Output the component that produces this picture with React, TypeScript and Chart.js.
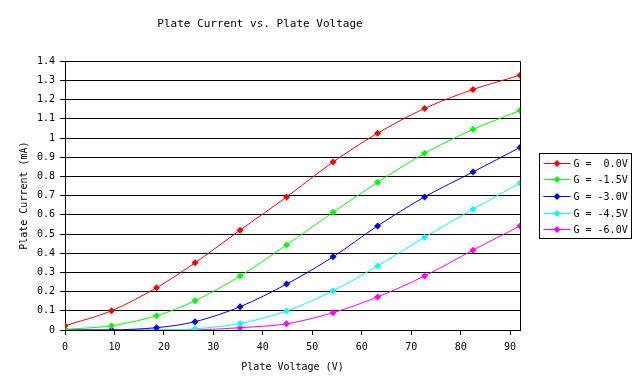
import React, { useEffect, useRef } from "react";
import { Chart, registerables } from "chart.js";

Chart.register(...registerables);

const voltages = [0, 9.4, 18.5, 26.3, 35.4, 44.8, 54.2, 63.2, 72.7, 82.5, 92];
const seriesLabels = ["G =  0.0V", "G = -1.5V", "G = -3.0V", "G = -4.5V", "G = -6.0V"];
const seriesColors = ["#ff0000", "#00ff00", "#0000ff", "#00ffff", "#ff00ff"];
const g0 = [0.022, 0.1, 0.22, 0.35, 0.52, 0.693, 0.875, 1.025, 1.154, 1.253, 1.327];
const g15 = [0.003, 0.022, 0.074, 0.152, 0.281, 0.443, 0.613, 0.769, 0.92, 1.045, 1.143];
const g30 = [0, 0, 0.012, 0.043, 0.121, 0.239, 0.381, 0.542, 0.693, 0.823, 0.951];
const g45 = [0, 0, 0, 0.006, 0.034, 0.099, 0.204, 0.333, 0.483, 0.629, 0.766];
const g60 = [0, 0, 0, 0, 0.012, 0.032, 0.09, 0.172, 0.281, 0.416, 0.542];
const seriesValues = [g0, g15, g30, g45, g60];
const xTicks = [0, 10, 20, 30, 40, 50, 60, 70, 80, 90];
const titleText = "Plate Current vs. Plate Voltage";
const xTitle = "Plate Voltage (V)";
const yTitle = "Plate Current (mA)";

const FONT = "'DejaVu Sans Mono', 'Liberation Mono', monospace";

const legendPlugin = {
  id: "boxLegend",
  afterDraw(chart: any) {
    const ctx = chart.ctx;
    const area = chart.chartArea;
    ctx.save();
    // right border of plot
    ctx.strokeStyle = "#000";
    ctx.lineWidth = 1;
    ctx.beginPath();
    const rx = Math.round(area.right) + 0.5;
    ctx.moveTo(rx, area.top);
    ctx.lineTo(rx, area.bottom);
    ctx.stroke();

    const left = area.right + 19.5;
    const width = 92;
    const rowH = 16.7;
    const height = rowH * seriesLabels.length + 1.5;
    const top = Math.round((area.top + area.bottom) / 2 - height / 2) + 0.5;
    ctx.strokeRect(left, top, width, height);
    ctx.font = "10px " + FONT;
    ctx.textBaseline = "middle";
    ctx.textAlign = "left";
    seriesLabels.forEach((lab, i) => {
      const y = Math.round(top + 9 + i * rowH) + 0.5;
      const c = seriesColors[i];
      ctx.strokeStyle = c;
      ctx.beginPath();
      ctx.moveTo(left + 4, y);
      ctx.lineTo(left + 31, y);
      ctx.stroke();
      ctx.fillStyle = c;
      const cx = left + 17.5;
      const r = 3.5;
      ctx.beginPath();
      ctx.moveTo(cx, y - r);
      ctx.lineTo(cx + r, y);
      ctx.lineTo(cx, y + r);
      ctx.lineTo(cx - r, y);
      ctx.closePath();
      ctx.fill();
      ctx.fillStyle = "#000";
      ctx.fillText(lab, left + 34, y + 0.5);
    });
    ctx.restore();
  },
};

export default function App() {
  const ref = useRef<HTMLCanvasElement | null>(null);
  useEffect(() => {
    document.body.style.margin = "0";
    const canvas = ref.current;
    if (!canvas) return;
    const chart = new Chart(canvas, {
      type: "line",
      data: {
        datasets: seriesValues.map((vals, i) => ({
          label: seriesLabels[i],
          data: voltages.map((v, j) => ({ x: v, y: vals[j] })),
          borderColor: seriesColors[i],
          backgroundColor: seriesColors[i],
          borderWidth: 1,
          pointStyle: "rectRot",
          pointRadius: 3.5,
          pointBorderWidth: 0,
          tension: 0.3,
          fill: false,
        })),
      },
      options: {
        responsive: false,
        animation: false,
        layout: { padding: { left: 0, right: 120, top: 0, bottom: 0 } },
        plugins: {
          legend: { display: false },
          tooltip: { enabled: false },
          title: {
            display: true,
            text: titleText,
            color: "#000",
            font: { family: FONT, size: 11, weight: "normal" },
            padding: { top: 18, bottom: 30 },
          },
        },
        scales: {
          x: {
            type: "linear",
            min: 0,
            max: 92,
            afterFit: (s: any) => {
              s.height = 50;
            },
            afterBuildTicks: (s: any) => {
              s.ticks = xTicks.map((v) => ({ value: v }));
            },
            border: { color: "#000", width: 1 },
            grid: {
              display: true,
              drawOnChartArea: false,
              drawTicks: true,
              tickLength: 5,
              color: "#000",
            },
            ticks: {
              color: "#000",
              padding: 6,
              maxRotation: 0,
              font: { family: FONT, size: 10 },
            },
            title: {
              display: true,
              text: xTitle,
              color: "#000",
              font: { family: FONT, size: 10 },
              padding: { top: 0, bottom: 7 },
            },
          },
          y: {
            type: "linear",
            min: 0,
            max: 1.4,
            afterFit: (s: any) => {
              s.width = 65;
            },
            border: { color: "#000", width: 1 },
            grid: {
              display: true,
              drawOnChartArea: true,
              drawTicks: true,
              tickLength: 5,
              color: "#000",
            },
            ticks: {
              stepSize: 0.1,
              color: "#000",
              padding: 5,
              font: { family: FONT, size: 10 },
              callback: (v: any) => String(Math.round(Number(v) * 10) / 10),
            },
            title: {
              display: true,
              text: yTitle,
              color: "#000",
              font: { family: FONT, size: 10 },
              padding: { top: 18, bottom: 0 },
            },
          },
        },
      },
      plugins: [legendPlugin],
    } as any);
    return () => chart.destroy();
  }, []);
  return <canvas ref={ref} width={640} height={380} style={{ display: "block" }} />;
}
